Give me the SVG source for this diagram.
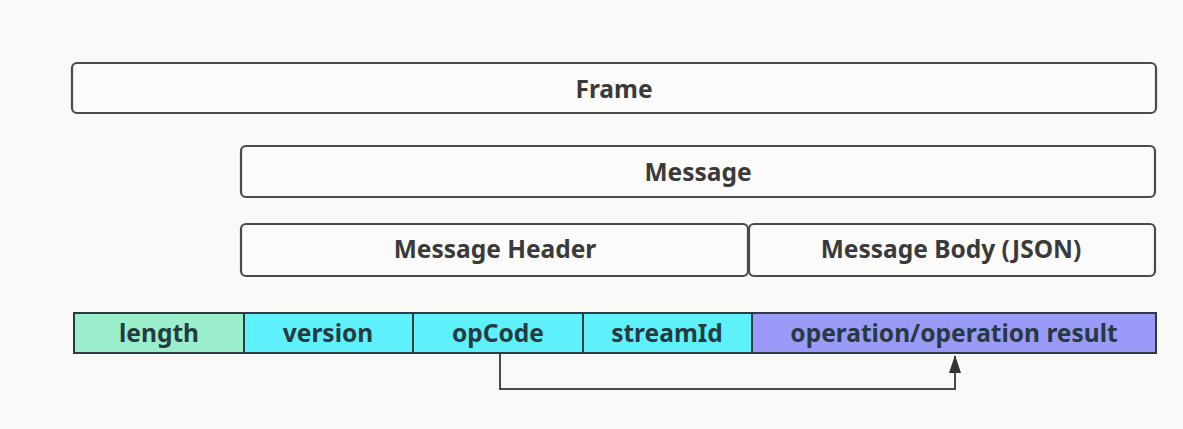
<svg xmlns="http://www.w3.org/2000/svg" width="1183" height="429" viewBox="0 0 1183 429">
<style>
.box{fill:#fbfbf9;stroke:#4a4a4a;stroke-width:2.2}
.cell{stroke:#2f3b40;stroke-width:2}
.t{font-family:"Noto Sans","Open Sans","DejaVu Sans",sans-serif;font-weight:bold;font-size:24.5px;text-anchor:middle;dominant-baseline:central;fill:#3a3a3a}
.ct{fill:#263a40}
.conn{fill:none;stroke:#4a4a4a;stroke-width:2}
</style>
<defs>
<marker id="ah" viewBox="0 0 18 12" refX="17" refY="6" markerWidth="18" markerHeight="12" markerUnits="userSpaceOnUse" orient="auto">
<path d="M0,0 L18,6 L0,12 Z" fill="#333"/>
</marker>
</defs>
<rect width="1183" height="429" fill="#f9f9f7"/>
<g id="frame"><rect class="box" x="72" y="63" width="1084" height="50" rx="5"/><text class="t" x="614" y="88">Frame</text></g>
<g id="message"><rect class="box" x="241" y="146" width="914" height="51" rx="5"/><text class="t" x="698" y="171">Message</text></g>
<g id="message-header"><rect class="box" x="241" y="224" width="507" height="52" rx="5"/><text class="t" x="495" y="248">Message Header</text></g>
<g id="message-body"><rect class="box" x="749" y="224" width="406" height="52" rx="5"/><text class="t" x="951" y="248">Message Body (JSON)</text></g>
<g id="length"><rect class="cell" x="74" y="313" width="170" height="40" fill="#9aeecb"/><text class="t ct" x="159" y="332">length</text></g>
<g id="version"><rect class="cell" x="244" y="313" width="169" height="40" fill="#5ef0fb"/><text class="t ct" x="328" y="332">version</text></g>
<g id="opCode"><rect class="cell" x="413" y="313" width="170" height="40" fill="#5ef0fb"/><text class="t ct" x="498" y="332">opCode</text></g>
<g id="streamId"><rect class="cell" x="583" y="313" width="169" height="40" fill="#5ef0fb"/><text class="t ct" x="667" y="332">streamId</text></g>
<g id="operation"><rect class="cell" x="752" y="313" width="404" height="40" fill="#9a9af8"/><text class="t ct" x="954" y="332">operation/operation result</text></g>
<g id="connectors">
<path class="conn" d="M500,354 V389 H955 V356" marker-end="url(#ah)"/>
</g>
</svg>
